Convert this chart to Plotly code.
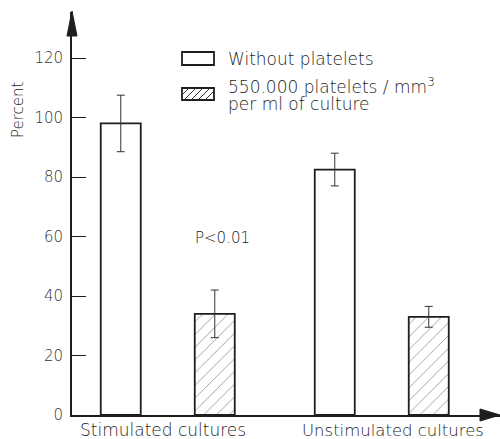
import plotly.graph_objects as go

# Data: percent response, with standard error
groups = ["Stimulated cultures", "Unstimulated cultures"]
without_platelets = [98.0, 82.5]
without_err = [9.5, 5.5]
with_platelets = [34.0, 33.0]
with_err = [8.0, 3.5]
y_ticks = [0, 20, 40, 60, 80, 100, 120]
legend_lines = ["Without platelets", "550.000 platelets / mm<sup>3</sup>", "per ml of culture"]
p_label = "P<0.01"

W, H = 500, 439
L, R, T, B = 72, 0, 12, 24
PW, PH = W - L - R, H - T - B
FONT = "DejaVu Sans"
INK = "#1e1e1e"

def px(x):
    return (x - L) / PW

def py(y):
    return (H - B - y) / PH

# category axis: index 0 at 167.75 px, 1 at 381.75 px
unit = 214.0
c0 = 167.75
xr = [(L - c0) / unit, (W - R - c0) / unit]
yr = [0, PH / (357 / 120)]

bw = 40 / unit
half = 47 / unit
xs = list(range(len(groups)))

fig = go.Figure()
fig.add_trace(go.Bar(
    x=xs, y=without_platelets, name=legend_lines[0],
    width=bw, offset=-half - bw / 2,
    marker=dict(color="white", line=dict(color=INK, width=1.8)),
    error_y=dict(type="data", array=without_err, color="#333", thickness=1, width=4),
    showlegend=False,
))
fig.add_trace(go.Bar(
    x=xs, y=with_platelets, name=legend_lines[1],
    width=bw, offset=half - bw / 2,
    marker=dict(color="white", line=dict(color=INK, width=1.8),
                pattern=dict(shape="/", fgcolor="#333", bgcolor="white", size=9, solidity=0.1)),
    error_y=dict(type="data", array=with_err, color="#333", thickness=1, width=4),
    showlegend=False,
))

shapes = []
# axis arrowheads
shapes.append(dict(type="path", xref="paper", yref="paper",
                   path=f"M {px(67)} {py(36)} L {px(72)} {py(11)} L {px(77)} {py(36)} Z",
                   fillcolor=INK, line=dict(color=INK, width=1)))
shapes.append(dict(type="path", xref="paper", yref="paper",
                   path=f"M {px(480)} {py(409)} L {px(500)} {py(415)} L {px(480)} {py(421)} Z",
                   fillcolor=INK, line=dict(color=INK, width=1)))

# legend boxes
lx0, lx1 = 182, 214
shapes.append(dict(type="rect", xref="paper", yref="paper",
                   x0=px(lx0), x1=px(lx1), y0=py(65), y1=py(52),
                   fillcolor="white", line=dict(color=INK, width=1.8)))
shapes.append(dict(type="rect", xref="paper", yref="paper",
                   x0=px(lx0), x1=px(lx1), y0=py(100), y1=py(88),
                   fillcolor="white", line=dict(color=INK, width=1.8)))
hatch = ""
for k in range(-12, 34, 7):
    xa, ya = lx0 + k, 100
    xb, yb = lx0 + k + 12, 88
    if xa < lx0:
        ya -= (lx0 - xa); xa = lx0
    if xb > lx1:
        yb += (xb - lx1); xb = lx1
    if xa < xb:
        hatch += f"M {px(xa)} {py(ya)} L {px(xb)} {py(yb)} "
shapes.append(dict(type="path", xref="paper", yref="paper", path=hatch,
                   line=dict(color="#333", width=1)))

tf = dict(family=FONT, size=17, color=INK, weight=200)
annotations = [
    dict(text=legend_lines[0], xref="paper", yref="paper", x=px(226), y=py(59),
         xanchor="left", yanchor="middle", showarrow=False, font=tf),
    dict(text=legend_lines[1], xref="paper", yref="paper", x=px(226), y=py(86),
         xanchor="left", yanchor="middle", showarrow=False, font=tf),
    dict(text=legend_lines[2], xref="paper", yref="paper", x=px(226), y=py(104),
         xanchor="left", yanchor="middle", showarrow=False, font=tf),
    dict(text=p_label, xref="paper", yref="paper", x=px(222), y=py(238),
         xanchor="center", yanchor="middle", showarrow=False,
         font=dict(family=FONT, size=15, color=INK, weight=200)),
    dict(text="Percent", xref="paper", yref="paper", x=px(18), y=py(110),
         xanchor="center", yanchor="middle", textangle=-90, showarrow=False,
         font=dict(family=FONT, size=15, color=INK, weight=200)),
]
label_centers = [163, 393]
label_sizes = [17, 16.5]
for name, cx, sz in zip(groups, label_centers, label_sizes):
    annotations.append(dict(text=name, xref="paper", yref="paper", x=px(cx), y=py(442),
                            xanchor="center", yanchor="bottom", showarrow=False,
                            font=dict(family=FONT, size=sz, color=INK, weight=200)))

fig.update_layout(
    width=W, height=H,
    margin=dict(l=L, r=R, t=T, b=B, pad=0),
    paper_bgcolor="white", plot_bgcolor="white",
    barmode="overlay",
    xaxis=dict(range=xr, showgrid=False, zeroline=False, showticklabels=False, ticks="",
               showline=True, linecolor=INK, linewidth=1.8, fixedrange=True),
    yaxis=dict(range=yr, tickvals=y_ticks, showgrid=False, zeroline=False,
               ticks="inside", ticklen=14, tickwidth=1, tickcolor=INK,
               showline=True, linecolor=INK, linewidth=1.8,
               tickfont=dict(family=FONT, size=15, color="#333", weight=200),
               ticklabelstandoff=4),
    shapes=shapes, annotations=annotations,
)

fig.write_html("out.html")
